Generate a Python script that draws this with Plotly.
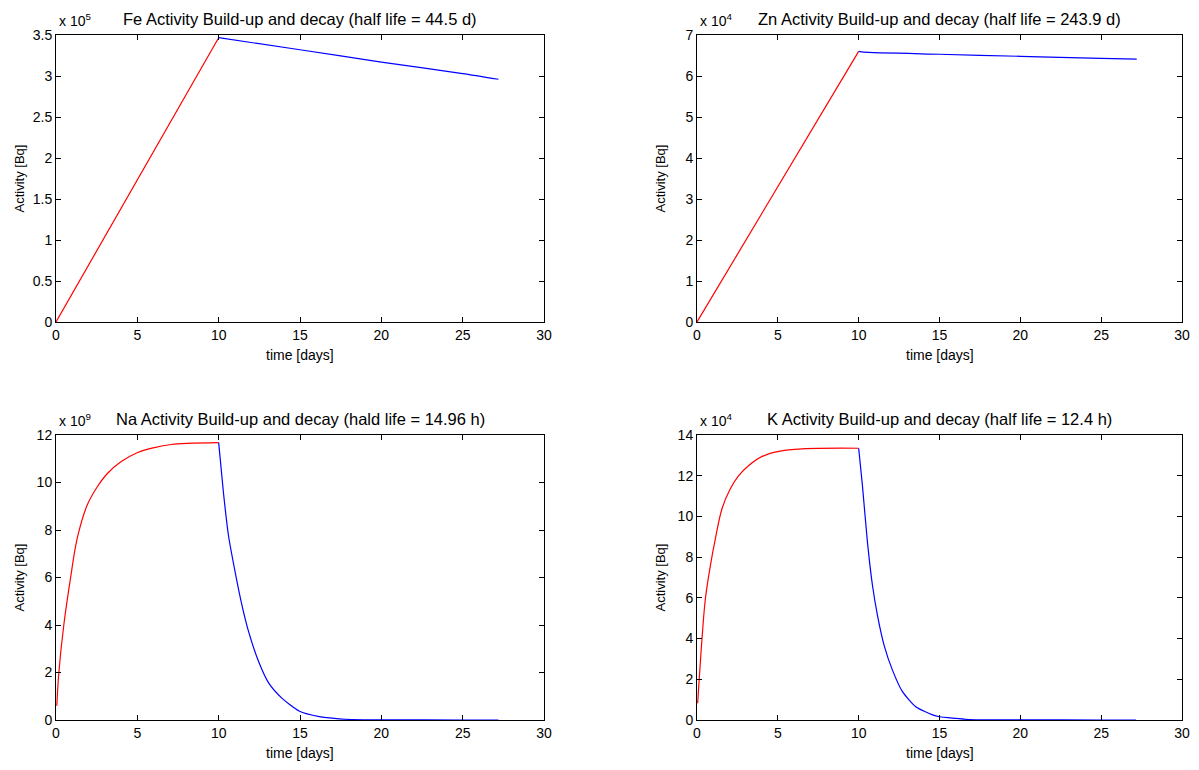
import plotly.graph_objects as go

# ---------------- data (values in displayed axis units) ----------------
fe_build_t = [0, 10]
fe_build_a = [0, 3.467]
fe_decay_t = [10, 15, 20, 25, 27.2]
fe_decay_a = [3.467, 3.32, 3.17, 3.03, 2.96]

zn_build_t = [0, 10]
zn_build_a = [0, 6.6]
zn_decay_t = [10, 10.3, 15, 20, 25, 27.2]
zn_decay_a = [6.6, 6.58, 6.53, 6.48, 6.43, 6.41]

na_build_t = [0.05, 0.17, 0.48, 0.89, 1.3, 1.92, 2.54, 3.16, 3.99, 5.02, 6.05, 7.09, 8.12, 10]
na_build_a = [0.6, 1.96, 4.0, 5.96, 7.64, 9.05, 9.82, 10.38, 10.87, 11.26, 11.47, 11.6, 11.65, 11.68]
na_decay_t = [10, 10.29, 10.6, 11.01, 11.43, 11.84, 12.46, 13.08, 13.9, 14.94, 16.19, 17.4, 18.2, 20, 25, 27.2]
na_decay_a = [11.68, 9.6, 7.78, 6.24, 4.84, 3.72, 2.45, 1.55, 0.91, 0.38, 0.14, 0.05, 0.02, 0.01, 0.0, 0.0]

k_build_t = [0.04, 0.14, 0.31, 0.52, 0.83, 1.14, 1.55, 2.07, 2.58, 3.2, 4.03, 5.06, 6.51, 10]
k_build_a = [0.82, 2.05, 4.0, 5.97, 7.6, 8.92, 10.39, 11.37, 12.0, 12.5, 12.95, 13.2, 13.32, 13.35]
k_decay_t = [10, 10.23, 10.54, 10.85, 11.16, 11.57, 12.09, 12.71, 13.53, 14.57, 15, 16.03, 16.86, 20, 25, 27.16]
k_decay_a = [13.35, 11.54, 8.76, 6.63, 5.15, 3.68, 2.45, 1.39, 0.65, 0.25, 0.16, 0.08, 0.02, 0.01, 0.0, 0.0]

titles = [
    "Fe Activity Build-up and decay (half life = 44.5 d)",
    "Zn Activity Build-up and decay (half life = 243.9 d)",
    "Na Activity Build-up and decay (hald life = 14.96 h)",
    "K Activity Build-up and decay (half life = 12.4 h)",
]
exponents = [5, 4, 9, 4]
y_ranges = [[0, 3.5], [0, 7], [0, 12], [0, 14]]
y_dticks = [0.5, 1, 2, 2]
x_range = [0, 30]
x_dtick = 5
x_title = "time [days]"
y_title = "Activity [Bq]"

# ---------------- layout geometry (page pixels; page body has 8px margin) ----------------
OFF = 8
W, H = 1183, 754
cols_px = [(56, 544), (697, 1182)]
rows_px = [(35, 322), (435, 720)]

FONT = "Liberation Sans, Arial, sans-serif"
RED = "#ff0000"
BLUE = "#0000ff"


def px(v):
    return (v - OFF) / W


def py(v):
    return 1 - (v - OFF) / H


fig = go.Figure()

panels = [
    (fe_build_t, fe_build_a, fe_decay_t, fe_decay_a),
    (zn_build_t, zn_build_a, zn_decay_t, zn_decay_a),
    (na_build_t, na_build_a, na_decay_t, na_decay_a),
    (k_build_t, k_build_a, k_decay_t, k_decay_a),
]

annotations = []
for i, (bt, ba, dt, da) in enumerate(panels):
    r, c = divmod(i, 2)
    x0, x1 = cols_px[c]
    y0, y1 = rows_px[r]
    xa = "x" if i == 0 else f"x{i+1}"
    ya = "y" if i == 0 else f"y{i+1}"
    xkey = "xaxis" if i == 0 else f"xaxis{i+1}"
    ykey = "yaxis" if i == 0 else f"yaxis{i+1}"

    shape = "spline" if len(bt) > 3 else "linear"
    fig.add_trace(go.Scatter(x=bt, y=ba, mode="lines",
                             line=dict(color=RED, width=1.2, shape=shape, smoothing=1.0),
                             xaxis=xa, yaxis=ya, showlegend=False, hoverinfo="skip"))
    fig.add_trace(go.Scatter(x=dt, y=da, mode="lines",
                             line=dict(color=BLUE, width=1.2, shape="spline", smoothing=0.6),
                             xaxis=xa, yaxis=ya, showlegend=False, hoverinfo="skip"))

    axis_common = dict(showline=True, linecolor="black", linewidth=1, mirror="ticks",
                       ticks="inside", ticklen=5, tickcolor="black", showgrid=False,
                       zeroline=False, automargin=False,
                       tickfont=dict(family=FONT, size=14, color="black"))
    fig.layout[xkey] = dict(domain=[px(x0), px(x1)], range=x_range, dtick=x_dtick,
                            tick0=0, anchor=ya, **axis_common)
    fig.layout[ykey] = dict(domain=[py(y1), py(y0)], range=y_ranges[i],
                            dtick=y_dticks[i], tick0=0, anchor=xa, **axis_common)

    cx = (x0 + x1) / 2
    # title
    annotations.append(dict(text=titles[i], x=px(cx), y=py(y0 - 16),
                            xref="paper", yref="paper", xanchor="center", yanchor="middle",
                            showarrow=False, font=dict(family=FONT, size=16.5, color="black")))
    # exponent
    annotations.append(dict(text=f"x 10<sup>{exponents[i]}</sup>", x=px(x0 + 1),
                            y=py(y0 - 15), xref="paper", yref="paper",
                            xanchor="left", yanchor="middle", showarrow=False,
                            font=dict(family=FONT, size=14, color="black")))
    # x title
    annotations.append(dict(text=x_title, x=px(cx), y=py(y1 + 33),
                            xref="paper", yref="paper", xanchor="center", yanchor="middle",
                            showarrow=False, font=dict(family=FONT, size=14, color="black")))
    # y title
    annotations.append(dict(text=y_title, x=px(x0 - 37), y=py((y0 + y1) / 2),
                            xref="paper", yref="paper", xanchor="center", yanchor="middle",
                            textangle=-90, showarrow=False,
                            font=dict(family=FONT, size=13, color="black")))

fig.update_layout(width=W, height=H, margin=dict(l=0, r=0, t=0, b=0),
                  paper_bgcolor="white", plot_bgcolor="white",
                  annotations=annotations, showlegend=False)

fig.write_html("out.html")
